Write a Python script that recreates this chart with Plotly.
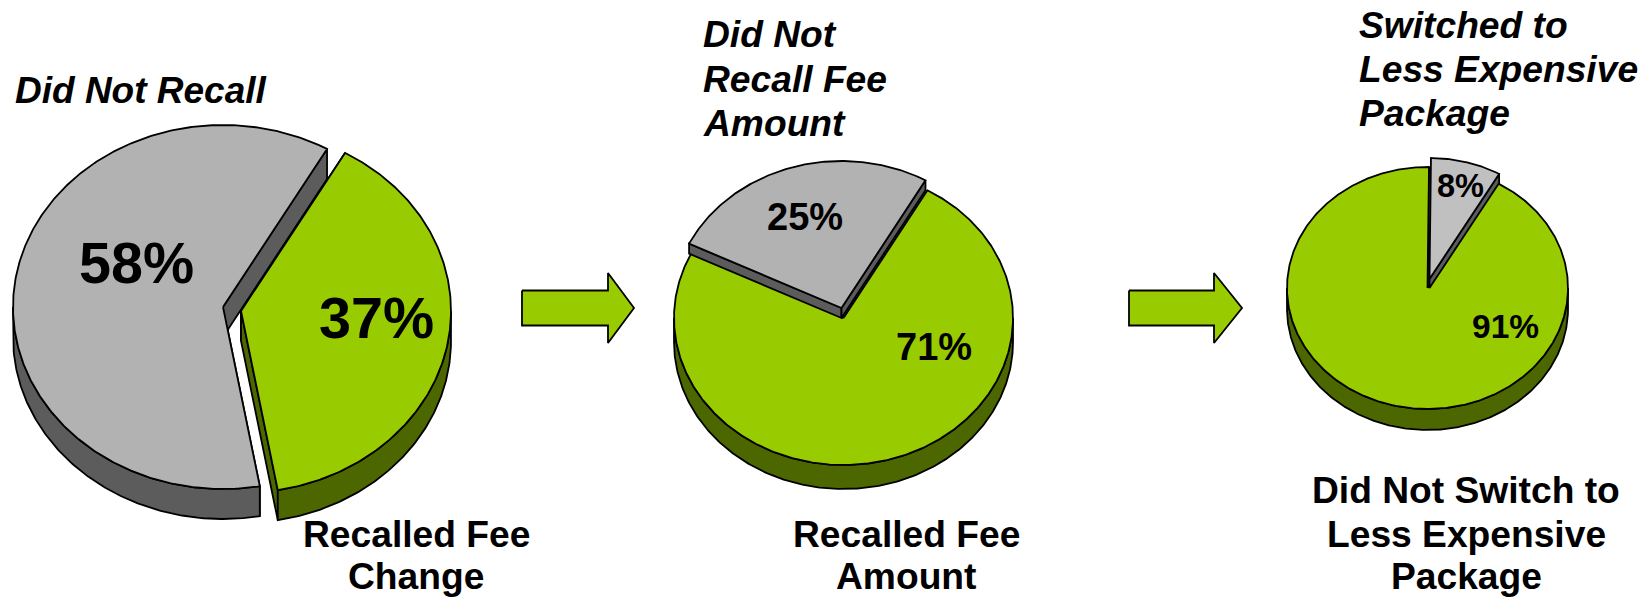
import math
import plotly.graph_objects as go

# ---- data ----
pie1_labels = ["Recalled Fee Change", "Did Not Recall"]
pie1_values = [37, 58]
pie2_labels = ["Recalled Fee Amount", "Did Not Recall Fee Amount"]
pie2_values = [71, 25]
pie3_labels = ["Did Not Switch to Less Expensive Package", "Switched to Less Expensive Package"]
pie3_values = [91, 8]

# ---- styling / placement ----
W, H = 1644, 598
GREEN, GREEN_DARK = "#99CC00", "#4C6600"
GRAY, GRAY_DARK = "#B2B2B2", "#5C5C5C"
GRAY_LIGHT = "#C0C0C0"
OUT = "#000000"
FONT = "Liberation Sans, Arial, sans-serif"
START = 29.7  # clockwise from 12 o'clock, where the first slice starts

pies = [
    dict(values=pie1_values, cx=223, cy=307, rx=210, ry=182,
         slices=[dict(color=GREEN, dark=GREEN_DARK, dx=18, dy=4, depth=30),
                 dict(color=GRAY, dark=GRAY_DARK, dx=0, dy=0, depth=30)]),
    dict(values=pie2_values, cx=843.5, cy=318, rx=169.5, ry=147,
         slices=[dict(color=GREEN, dark=GREEN_DARK, dx=0, dy=0, depth=24),
                 dict(color=GRAY, dark=GRAY_DARK, dx=-2, dy=-10, depth=10)]),
    dict(values=pie3_values, cx=1427.5, cy=288, rx=140.5, ry=121,
         slices=[dict(color=GREEN, dark=GREEN_DARK, dx=0, dy=0, depth=21),
                 dict(color=GRAY_LIGHT, dark=GRAY_DARK, dx=2, dy=-9, depth=9)]),
]

arrows = [dict(x0=522, neck=608, tip=634), dict(x0=1129, neck=1214, tip=1242)]

# text, x, y, size, italic, anchor
texts = [
    ("Did Not Recall", 13, 90, 37, True, "left"),
    ("58%", 136, 263, 57.5, False, "center"),
    ("37%", 376, 318, 57.5, False, "center"),
    ("Recalled Fee", 416, 534, 37.2, False, "center"),
    ("Change", 416, 576, 37.2, False, "center"),
    ("Did Not", 701, 34, 37.2, True, "left"),
    ("Recall Fee", 701, 79, 37.2, True, "left"),
    ("Amount", 701, 123, 37.2, True, "left"),
    ("25%", 805, 217, 38, False, "center"),
    ("71%", 934, 347, 38, False, "center"),
    ("Recalled Fee", 906, 534, 37.2, False, "center"),
    ("Amount", 906, 576, 37.2, False, "center"),
    ("Switched to", 1357, 25, 37.2, True, "left"),
    ("Less Expensive", 1357, 69, 37.2, True, "left"),
    ("Package", 1357, 113, 37.2, True, "left"),
    ("8%", 1460, 186, 32.5, False, "center"),
    ("91%", 1505, 326, 33.5, False, "center"),
    ("Did Not Switch to", 1466, 490, 37.2, False, "center"),
    ("Less Expensive", 1466, 534, 37.2, False, "center"),
    ("Package", 1466, 576, 37.2, False, "center"),
]


def arc(cx, cy, rx, ry, a, b, n=None):
    n = n or max(2, int(abs(b - a) * 1.5))
    pts = []
    for i in range(n + 1):
        t = math.radians(a + (b - a) * i / n)
        pts.append((cx + rx * math.sin(t), cy - ry * math.cos(t)))
    return pts


def poly(fig, pts, fill, width=1.8):
    xs = [p[0] for p in pts] + [pts[0][0]]
    ys = [p[1] for p in pts] + [pts[0][1]]
    fig.add_trace(go.Scatter(x=xs, y=ys, mode="lines", fill="toself", fillcolor=fill,
                             line=dict(color=OUT, width=width), hoverinfo="skip",
                             showlegend=False))


fig = go.Figure()

for pie in pies:
    total = sum(pie["values"])
    a = START
    for val, s in zip(pie["values"], pie["slices"]):
        b = a + val / total * 360
        cx, cy = pie["cx"] + s["dx"], pie["cy"] + s["dy"]
        rx, ry, d = pie["rx"], pie["ry"], s["depth"]
        # walls on the two straight edges
        for edge in (a, b):
            p = arc(cx, cy, rx, ry, edge, edge, 1)[0]
            poly(fig, [(cx, cy), p, (p[0], p[1] + d), (cx, cy + d)], s["dark"])
        # outer wall: only the front half of the rim shows
        lo, hi = max(a, 90), min(b, 270)
        if hi > lo:
            rim = arc(cx, cy, rx, ry, lo, hi)
            poly(fig, rim + [(x, y + d) for x, y in reversed(rim)], s["dark"])
        # top face
        poly(fig, [(cx, cy)] + arc(cx, cy, rx, ry, a, b), s["color"])
        a = b

for ar in arrows:
    yc, body, head = 308, 17.5, 35
    poly(fig, [(ar["x0"], yc - body), (ar["neck"], yc - body), (ar["neck"], yc - head),
               (ar["tip"], yc), (ar["neck"], yc + head), (ar["neck"], yc + body),
               (ar["x0"], yc + body)], GREEN)

for txt, x, y, size, italic, anchor in texts:
    fig.add_annotation(x=x, y=y, xref="x", yref="y", text=f"<b>{'<i>' + txt + '</i>' if italic else txt}</b>",
                       showarrow=False, xanchor=anchor, yanchor="middle",
                       font=dict(family=FONT, size=size, color="#000000"))

fig.update_layout(
    width=W, height=H, margin=dict(l=0, r=0, t=0, b=0),
    paper_bgcolor="white", plot_bgcolor="white", showlegend=False,
    xaxis=dict(range=[0, W], visible=False, fixedrange=True),
    yaxis=dict(range=[H, 0], visible=False, fixedrange=True),
)
fig.write_html("out.html", config={"displayModeBar": False},
               post_script="document.body.style.margin='0';")
